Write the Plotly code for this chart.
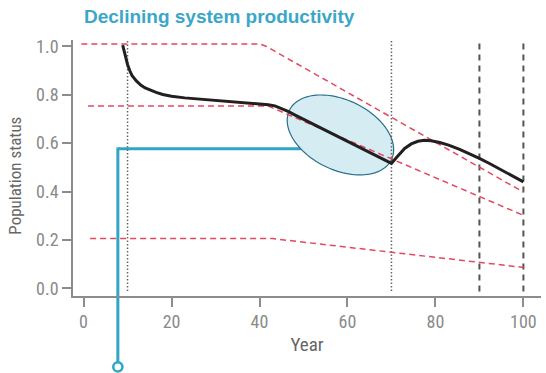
import numpy as np
import plotly.graph_objects as go

# Population trajectory under declining system productivity
years = [8.9, 9.5, 10.0, 10.5, 11.0, 12.0, 13.0, 14.0, 15.0, 16.5,
         18.0, 20.0, 23.0, 26.5, 31.0, 35.0, 39.0, 42.0, 43.5, 45.0,
         46.5, 48.0, 50.0, 53.0, 56.0, 60.0, 63.0, 66.0, 68.0, 70.0,
         71.0, 72.0, 73.0, 74.5, 76.0, 77.5, 79.0, 81.0, 83.0, 85.5,
         88.0, 90.0, 92.5, 95.0, 97.5, 100.0]
status = [1.005, 0.955, 0.925, 0.900, 0.880, 0.857, 0.840, 0.828, 0.820, 0.810,
          0.801, 0.794, 0.787, 0.782, 0.776, 0.771, 0.765, 0.759, 0.754, 0.744,
          0.731, 0.717, 0.699, 0.672, 0.644, 0.608, 0.581, 0.553, 0.535, 0.517,
          0.538, 0.560, 0.578, 0.597, 0.608, 0.612, 0.610, 0.603, 0.592, 0.574,
          0.555, 0.537, 0.514, 0.490, 0.465, 0.440]

# Reference levels (upper, target, limit) that decline with productivity
upper_x = [-0.5, 40.0, 41.5, 100.0]
upper_y = [1.01, 1.01, 1.0, 0.398]
target_x = [1.0, 42.0, 100.0]
target_y = [0.753, 0.753, 0.302]
limit_x = [1.5, 43.0, 100.0]
limit_y = [0.206, 0.206, 0.087]

# Vertical year markers
dotted_years = [10, 70]
dashed_years = [90, 100]

# Highlighted region (centre, spreads and correlation in data units)
ell_cx, ell_cy = 58.4, 0.634
ell_sx, ell_sy, ell_rho = 12.1, 0.165, -0.366

# Call-out connector
callout_level = 0.577
callout_x = 7.8
callout_end = 52.0

tick_years = [0, 20, 40, 60, 80, 100]
tick_status = [0.0, 0.2, 0.4, 0.6, 0.8, 1.0]

X_RANGE = [-2.4, 104.0]
Y_RANGE = [-0.031, 1.026]

RED = "#e5475f"
TEAL = "#2fa6c3"
AXIS_GREY = "#8c8c8c"
FONT = "Liberation Sans Narrow, Arial Narrow, Roboto Condensed, sans-serif"


def y_paper(v):
    return (v - Y_RANGE[0]) / (Y_RANGE[1] - Y_RANGE[0])


fig = go.Figure()

for xs, ys in [(upper_x, upper_y), (target_x, target_y), (limit_x, limit_y)]:
    fig.add_trace(go.Scatter(x=xs, y=ys, mode="lines",
                             line=dict(color=RED, width=1.5, dash="6px,4px"),
                             hoverinfo="skip", showlegend=False))

fig.add_trace(go.Scatter(x=years, y=status, mode="lines",
                         line=dict(color="#231f20", width=3),
                         showlegend=False))

shapes = []
# connector: horizontal leg inside the plot, vertical leg running below the axis
shapes.append(dict(type="line", xref="x", yref="y", layer="below",
                   x0=callout_x, x1=callout_end, y0=callout_level, y1=callout_level,
                   line=dict(color=TEAL, width=3)))
circle_y = -0.277
shapes.append(dict(type="line", xref="x", yref="paper", layer="below",
                   x0=callout_x, x1=callout_x,
                   y0=y_paper(callout_level) + 0.005, y1=circle_y + 0.018,
                   line=dict(color=TEAL, width=3)))

# ellipse outline
t = np.linspace(0, 2 * np.pi, 121)
ex = ell_cx + ell_sx * np.cos(t)
ey = ell_cy + ell_sy * (ell_rho * np.cos(t) + np.sqrt(1 - ell_rho ** 2) * np.sin(t))
path = "M " + " L ".join(f"{a:.4f},{b:.5f}" for a, b in zip(ex, ey)) + " Z"
shapes.append(dict(type="path", xref="x", yref="y", layer="below", path=path,
                   fillcolor="#d5edf2", line=dict(color="#2b6d8c", width=1.2)))

for yr in dotted_years:
    shapes.append(dict(type="line", xref="x", yref="y", layer="between",
                       x0=yr, x1=yr, y0=-0.01, y1=1.03,
                       line=dict(color="#666666", width=1.5, dash="1.5px,2px")))
for yr in dashed_years:
    shapes.append(dict(type="line", xref="x", yref="y", layer="between",
                       x0=yr, x1=yr, y0=-0.012, y1=1.03,
                       line=dict(color="#555555", width=2, dash="6px,5px")))

shapes.append(dict(type="circle", xref="x", yref="paper", layer="above",
                   xsizemode="pixel", ysizemode="pixel",
                   xanchor=callout_x, yanchor=circle_y,
                   x0=-4.6, x1=4.6, y0=-4.6, y1=4.6,
                   fillcolor="white", line=dict(color=TEAL, width=2.5)))

fig.update_layout(
    width=546, height=373,
    margin=dict(l=73, r=5, t=40, b=77),
    paper_bgcolor="white", plot_bgcolor="white",
    font=dict(family=FONT, color=AXIS_GREY),
    shapes=shapes,
    showlegend=False,
    xaxis=dict(range=X_RANGE, tickvals=tick_years, ticks="outside", ticklen=9,
               tickwidth=1.5, tickcolor=AXIS_GREY, showline=True, linecolor=AXIS_GREY,
               linewidth=1.5, showgrid=False, zeroline=False,
               tickfont=dict(family=FONT, size=18, color="#8a8a8a"),
               title=dict(text="Year", font=dict(family=FONT, size=19, color="#666666"),
                          standoff=6)),
    yaxis=dict(range=Y_RANGE, tickvals=tick_status, tickformat=".1f", ticks="outside",
               ticklen=9, tickwidth=1.5, tickcolor=AXIS_GREY, showline=True,
               linecolor=AXIS_GREY, linewidth=1.5, showgrid=False, zeroline=False,
               tickfont=dict(family=FONT, size=18, color="#8a8a8a")),
    annotations=[
        dict(text="Population status", xref="paper", yref="paper", x=-0.124, y=0.47,
             xanchor="center", yanchor="middle", textangle=-90, showarrow=False,
             font=dict(family=FONT, size=17, color="#666666")),
        dict(text="<b>Declining system productivity</b>", xref="paper", yref="paper",
             x=0.019, y=1.09, xanchor="left", yanchor="middle", showarrow=False,
             font=dict(family="Liberation Sans, Arial, sans-serif", size=19, color="#3ba7c7")),
    ],
)

fig.write_html("out.html")
